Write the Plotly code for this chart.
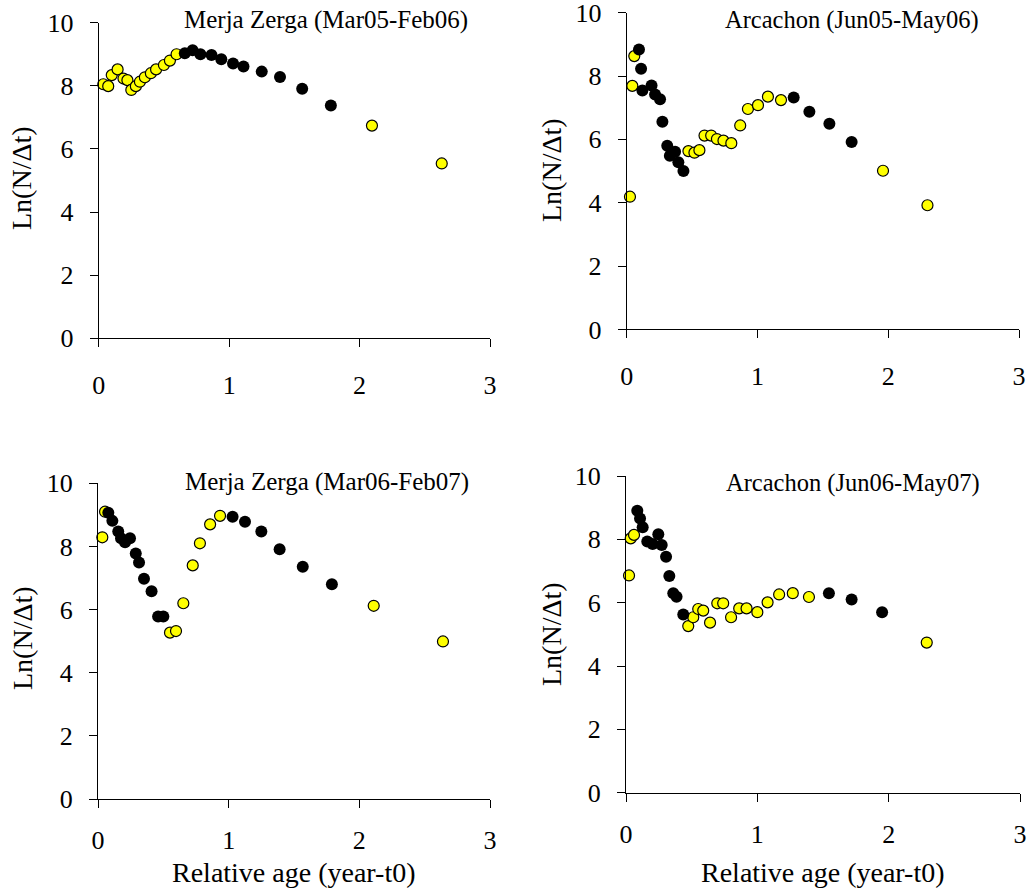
import plotly.graph_objects as go

W, H = 1027, 891

# ---------------- data ----------------
titles = ["Merja Zerga (Mar05-Feb06)", "Arcachon (Jun05-May06)",
          "Merja Zerga (Mar06-Feb07)", "Arcachon (Jun06-May07)"]
y_title = "Ln(N/\u0394t)"
x_title = "Relative age (year-t0)"
x_ticks = [0, 1, 2, 3]
y_ticks = [0, 2, 4, 6, 8, 10]

# Panel 1: Merja Zerga 2005-06
mz05_yellow_x = [0.035, 0.073, 0.10, 0.145, 0.19, 0.22, 0.25, 0.285, 0.316, 0.354, 0.40, 0.44, 0.50, 0.546, 0.597, 2.095, 2.63]
mz05_yellow_y = [8.05, 7.99, 8.34, 8.52, 8.23, 8.18, 7.87, 7.99, 8.13, 8.27, 8.40, 8.52, 8.66, 8.80, 9.00, 6.74, 5.54]
mz05_black_x = [0.66, 0.72, 0.78, 0.865, 0.94, 1.03, 1.11, 1.25, 1.39, 1.56, 1.78]
mz05_black_y = [9.03, 9.13, 9.00, 8.98, 8.84, 8.71, 8.61, 8.45, 8.28, 7.91, 7.38]

# Panel 2: Arcachon 2005-06
ar05_yellow_x = [0.025, 0.043, 0.058, 0.472, 0.518, 0.556, 0.595, 0.646, 0.69, 0.74, 0.80, 0.868, 0.927, 1.004, 1.08, 1.18, 1.96, 2.30]
ar05_yellow_y = [4.19, 7.69, 8.63, 5.63, 5.58, 5.66, 6.12, 6.12, 6.01, 5.96, 5.88, 6.44, 6.96, 7.08, 7.35, 7.24, 5.01, 3.92]
ar05_black_x = [0.094, 0.11, 0.12, 0.19, 0.217, 0.255, 0.273, 0.31, 0.33, 0.37, 0.395, 0.434, 1.277, 1.397, 1.55, 1.72]
ar05_black_y = [8.84, 8.23, 7.54, 7.70, 7.42, 7.27, 6.56, 5.80, 5.48, 5.61, 5.28, 5.00, 7.32, 6.87, 6.49, 5.92]

# Panel 3: Merja Zerga 2006-07
mz06_yellow_x = [0.033, 0.054, 0.551, 0.597, 0.653, 0.725, 0.78, 0.858, 0.934, 2.11, 2.64]
mz06_yellow_y = [8.29, 9.10, 5.27, 5.32, 6.20, 7.40, 8.10, 8.70, 8.97, 6.12, 4.99]
mz06_black_x = [0.079, 0.11, 0.155, 0.176, 0.207, 0.245, 0.289, 0.314, 0.352, 0.41, 0.46, 0.50, 1.03, 1.125, 1.25, 1.39, 1.567, 1.79]
mz06_black_y = [9.07, 8.81, 8.47, 8.26, 8.13, 8.26, 7.78, 7.49, 6.98, 6.58, 5.78, 5.78, 8.94, 8.78, 8.47, 7.91, 7.36, 6.80]

# Panel 4: Arcachon 2006-07
ar06_yellow_x = [0.023, 0.036, 0.061, 0.474, 0.512, 0.55, 0.588, 0.64, 0.695, 0.74, 0.80, 0.862, 0.918, 1.0, 1.078, 1.166, 1.27, 1.393, 2.29]
ar06_yellow_y = [6.86, 8.03, 8.14, 5.26, 5.54, 5.80, 5.75, 5.37, 5.98, 5.98, 5.54, 5.82, 5.82, 5.70, 6.01, 6.26, 6.30, 6.18, 4.74]
ar06_black_x = [0.086, 0.107, 0.127, 0.162, 0.203, 0.246, 0.272, 0.305, 0.33, 0.36, 0.385, 0.436, 1.545, 1.718, 1.95]
ar06_black_y = [8.90, 8.66, 8.38, 7.93, 7.85, 8.16, 7.82, 7.45, 6.84, 6.30, 6.19, 5.63, 6.30, 6.10, 5.70]

panels = [
    (mz05_yellow_x, mz05_yellow_y, mz05_black_x, mz05_black_y),
    (ar05_yellow_x, ar05_yellow_y, ar05_black_x, ar05_black_y),
    (mz06_yellow_x, mz06_yellow_y, mz06_black_x, mz06_black_y),
    (ar06_yellow_x, ar06_yellow_y, ar06_black_x, ar06_black_y),
]

# ---------------- layout (screen pixel boxes) ----------------
# (left, right, top, bottom) of each plot area in screen pixels
boxes = [
    (98.7, 490.0, 22.7, 338.3),
    (626.7, 1019.0, 12.7, 329.4),
    (98.0, 490.0, 483.3, 799.0),
    (626.0, 1020.0, 476.0, 792.7),
]
title_pos = [(326, 20), (852, 20), (327, 482), (853, 483)]
title_size = [25, 24.5, 25, 24.5]
ytitle_pos = [(22, 178), (551, 170), (22, 638), (551, 634)]
xtitle_pos = [None, None, (294, 872), (823, 872)]
xlabel_standoff = [15, 15, 10, 10]

FONT = "Liberation Serif"
TICK_SIZE = 26


def fx(px):
    return px / W


def fy(py):
    return 1 - py / H


fig = go.Figure()
layout = dict(
    width=W, height=H, margin=dict(l=0, r=0, t=0, b=0, autoexpand=False),
    paper_bgcolor="white", plot_bgcolor="white", showlegend=False,
    font=dict(family=FONT, color="black"),
)
annotations = []

for i, (yx, yy, bx, by) in enumerate(panels):
    n = i + 1
    xa = "x" if n == 1 else f"x{n}"
    ya = "y" if n == 1 else f"y{n}"
    fig.add_trace(go.Scatter(
        x=yx, y=yy, mode="markers", xaxis=xa, yaxis=ya, cliponaxis=False,
        marker=dict(size=11, color="#FFFF00", line=dict(color="black", width=1.2))))
    fig.add_trace(go.Scatter(
        x=bx, y=by, mode="markers", xaxis=xa, yaxis=ya, cliponaxis=False,
        marker=dict(size=12, color="black", line=dict(color="black", width=0))))
    l, r, t, b = boxes[i]
    axx = dict(domain=[fx(l), fx(r)], range=[0, 3], tickvals=x_ticks,
               showgrid=False, zeroline=False, showline=True, linecolor="black",
               linewidth=1, ticks="outside", ticklen=8, tickcolor="black",
               tickfont=dict(size=TICK_SIZE, family=FONT, color="black"),
               ticklabelstandoff=xlabel_standoff[i],
               anchor=ya, automargin=False, ticklabeloverflow="allow")
    axy = dict(domain=[fy(b), fy(t)], range=[0, 10], tickvals=y_ticks,
               showgrid=False, zeroline=False, showline=True, linecolor="black",
               linewidth=1, ticks="outside", ticklen=8, tickcolor="black",
               tickfont=dict(size=TICK_SIZE, family=FONT, color="black"),
               ticklabelstandoff=11,
               anchor=xa, automargin=False, ticklabeloverflow="allow")
    layout["xaxis" if n == 1 else f"xaxis{n}"] = axx
    layout["yaxis" if n == 1 else f"yaxis{n}"] = axy

    tx, ty = title_pos[i]
    annotations.append(dict(text=titles[i], x=fx(tx), y=fy(ty), xref="paper", yref="paper",
                            showarrow=False, xanchor="center", yanchor="middle",
                            font=dict(size=title_size[i], family=FONT, color="black")))
    ax_, ay_ = ytitle_pos[i]
    annotations.append(dict(text=y_title, x=fx(ax_), y=fy(ay_), xref="paper", yref="paper",
                            showarrow=False, xanchor="center", yanchor="middle", textangle=-90,
                            font=dict(size=28, family=FONT, color="black")))
    if xtitle_pos[i] is not None:
        xx, xy = xtitle_pos[i]
        annotations.append(dict(text=x_title, x=fx(xx), y=fy(xy), xref="paper", yref="paper",
                                showarrow=False, xanchor="center", yanchor="middle",
                                font=dict(size=28, family=FONT, color="black")))

layout["annotations"] = annotations
fig.update_layout(**layout)
fig.write_html("out.html", config={"displayModeBar": False},
               post_script="document.body.style.margin='0px';")
